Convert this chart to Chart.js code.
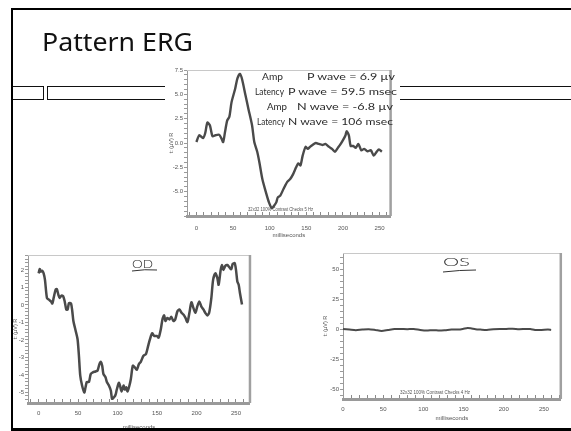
<!DOCTYPE html>
<html>
<head>
<meta charset="utf-8">
<script src="https://cdn.jsdelivr.net/npm/chart.js@4.4.0/dist/chart.umd.min.js"></script>
<style>
html, body { margin: 0; padding: 0; background: #fff; }
body { width: 571px; height: 431px; position: relative; overflow: hidden; }
.abs { position: absolute; }
.frame { left: 11px; top: 8px; width: 570px; height: 418px; border-left: 2px solid #000; border-top: 2px solid #000; border-bottom: 3px solid #000; z-index: 5; }
.cell { border: 1.5px solid #111; height: 12px; top: 86px; }
.img { background: #fff; z-index: 2; }
svg { left: 0; top: 0; z-index: 6; }
</style>
</head>
<body>
<div class="abs frame"></div>
<div class="abs cell" style="left:12px;width:30px"></div>
<div class="abs cell" style="left:47px;width:540px"></div>

<div class="abs img" style="left:165px;top:62px"><canvas id="topChart" width="235" height="178"></canvas></div>
<div class="abs img" style="left:13px;top:245px"><canvas id="odChart" width="242" height="186"></canvas></div>
<div class="abs img" style="left:318px;top:245px"><canvas id="osChart" width="253" height="186"></canvas></div>

<svg class="abs" width="571" height="431">
  <text x="42" y="51" font-family="Noto Sans" font-size="25" fill="#111" textLength="151" lengthAdjust="spacingAndGlyphs">Pattern ERG</text>
  <g font-family="Lato, DejaVu Sans" font-weight="400" font-size="10" fill="#2a2a2a">
    <text x="262" y="80" textLength="21" lengthAdjust="spacingAndGlyphs">Amp</text>
    <text x="307" y="80" textLength="88" lengthAdjust="spacingAndGlyphs">P wave = 6.9 µv</text>
    <text x="255" y="95" textLength="29" lengthAdjust="spacingAndGlyphs">Latency</text>
    <text x="288" y="95" textLength="109" lengthAdjust="spacingAndGlyphs">P wave = 59.5 msec</text>
    <text x="267" y="110" textLength="20" lengthAdjust="spacingAndGlyphs">Amp</text>
    <text x="297" y="110" textLength="96" lengthAdjust="spacingAndGlyphs">N wave = -6.8 µv</text>
    <text x="257" y="125" textLength="28" lengthAdjust="spacingAndGlyphs">Latency</text>
    <text x="288" y="125" textLength="105" lengthAdjust="spacingAndGlyphs">N wave = 106 msec</text>
    <text x="132" y="268" font-size="11" font-weight="300" textLength="21" lengthAdjust="spacingAndGlyphs">OD</text>
    <text x="443" y="266" font-size="11" font-weight="300" textLength="27" lengthAdjust="spacingAndGlyphs">OS</text>
  </g>
  <path d="M132 271 Q145 269 157 270" stroke="#333" stroke-width="1" fill="none"/>
  <path d="M443 272 Q460 270 476 270" stroke="#333" stroke-width="1" fill="none"/>
  <g font-family="Liberation Sans Narrow, Arial Narrow, sans-serif" font-size="5.5" fill="#555">
    <text x="248" y="211" textLength="65" lengthAdjust="spacingAndGlyphs">32x32 100% Contrast Checks 5 Hz</text>
    <text x="400" y="394" textLength="70" lengthAdjust="spacingAndGlyphs">32x32 100% Contrast Checks 4 Hz</text>
  </g>
</svg>

<script>
// top trace (Pattern ERG, 5 Hz)
const topMs = [0,4,9,12,15,18.5,22,26,31,34,36.5,39,42,45,48,53,56,59.5,62.5,67,71,76,79,83,86,90,95,99,103,106,109,111,114.5,119,124,128,132,136,139,142,145,149,152,155,158.5,163,167,172,176,181,185,189,193,196,200,203.5,205,208,210.5,214,217.5,221,225,229,233.5,238,242,246,249,253];
const topUv = [0.1,0.8,0.5,1.0,2.1,1.8,0.7,0.8,0.85,0.5,0.1,1.1,2.3,2.7,4.2,5.6,6.65,7.1,6.5,4.9,3.5,1.8,0.1,-0.9,-2.0,-3.7,-5.1,-6.1,-6.7,-6.45,-6.1,-5.6,-5.4,-4.7,-4.0,-3.7,-3.2,-2.5,-2.1,-2.3,-1.3,-0.4,-0.6,-0.4,-0.2,0.0,-0.1,-0.2,-0.1,-0.4,-0.6,-0.9,-0.5,-0.2,0.3,0.8,1.2,0.8,-0.3,-0.3,-0.5,-0.1,-0.75,-0.6,-0.85,-0.75,-1.3,-0.9,-0.65,-0.9];

// OD trace
const odMs = [0,1.3,3,4.6,6.3,8,10.5,13,15.6,17.3,19,21.5,23,25,26.5,29,31,33,35,36.7,38.4,41,42.6,44,47,49.3,51,52.7,55,57.8,59.4,61,63.7,66,68.7,72,74.6,77,78.8,80.5,82,84.7,86.4,89,91.5,93,95.7,97.4,99,101.6,103,105,107.5,109,111,112.6,115,116.8,119.3,121.8,124.4,127,129.4,132.8,136,138.7,141,143.8,146.3,149.7,152,154.7,157,159,160.6,163,165.7,168,170.7,173,175.8,178.3,181,183.4,186,188.5,191,193.5,196,198.6,201,203.6,206,208.7,211,213.7,216,218.8,221,223.9,226.4,228,230.6,232.3,234,236.5,239,241.6,244,245.8,248.3,250,251.7,253.4,255,257.6];
const odUv = [1.8,2.05,1.9,1.95,1.8,1.43,0.4,0.3,0.2,0.08,0.4,0.87,0.9,0.58,0.4,0.53,0.5,0.2,-0.26,-0.26,0.1,0.08,-0.36,-0.92,-1.5,-1.96,-2.9,-4.04,-4.6,-5.0,-4.7,-4.4,-4.4,-3.94,-3.85,-3.8,-3.75,-3.38,-3.25,-3.47,-3.94,-4.13,-4.4,-4.6,-4.9,-5.36,-5.26,-5.13,-4.83,-4.45,-4.6,-4.94,-4.6,-4.83,-4.7,-4.94,-4.6,-4.23,-3.47,-3.57,-3.7,-3.38,-3.25,-2.9,-2.8,-2.34,-1.96,-1.62,-1.77,-1.77,-1.87,-1.4,-0.79,-0.6,-0.92,-0.74,-0.83,-0.68,-0.92,-0.83,-0.36,-0.26,-0.45,-0.55,-0.74,-0.98,-0.45,0.15,-0.17,-0.45,-0.08,0.2,-0.08,-0.26,-0.45,-0.6,-0.45,0.4,1.43,1.8,1.53,1.15,2.0,2.28,2.0,2.23,2.28,2.15,2.04,2.34,2.38,2.0,1.34,1.15,0.68,0.02];

// OS trace (flat)
const osMs = [0,8,16,24,32,40,48,56,64,72,80,88,96,104,112,120,127,135,143,149,155,159,165,171,179,187,195,203,211,219,227,233,239,247,255,259];
const osUv = [0.5,0,-0.5,0,0.3,-0.3,-1.1,-0.3,0.5,0.5,0.3,0.5,-0.3,-0.8,-0.5,-0.8,-0.5,0,0,0.5,1.4,1.1,0.3,0,-0.3,0.3,0.5,0.5,0.8,0.3,0.5,0.5,-0.3,-0.3,0,-0.3];

const xLabel = 'milliseconds';
const yLabel = 't: (µV) R';

const tickFont = { family: 'Liberation Sans Narrow, Arial Narrow, sans-serif', size: 6 };

// light top edge + heavier right edge of the scanned plot box
const plotFrame = {
  id: 'plotFrame',
  beforeDatasetsDraw(chart) {
    const { ctx, chartArea: a } = chart;
    ctx.save();
    ctx.strokeStyle = '#c8c8c8';
    ctx.lineWidth = 1;
    ctx.beginPath(); ctx.moveTo(a.left, a.top + 0.5); ctx.lineTo(a.right, a.top + 0.5); ctx.stroke();
    ctx.strokeStyle = '#a0a0a0';
    ctx.lineWidth = 2.5;
    ctx.beginPath(); ctx.moveTo(a.right, a.top); ctx.lineTo(a.right, a.bottom); ctx.stroke();
    ctx.restore();
  }
};

function pts(xs, ys) {
  return xs.map((x, i) => ({ x: x, y: ys[i] }));
}

function makeChart(id, o) {
  return new Chart(document.getElementById(id), {
    type: 'line',
    data: {
      datasets: [{
        data: pts(o.xs, o.ys),
        borderColor: '#4a4a4a',
        borderWidth: o.lineWidth,
        pointRadius: 0,
        tension: 0.25,
        fill: false
      }]
    },
    options: {
      responsive: false,
      animation: false,
      devicePixelRatio: 1,
      layout: { padding: { top: o.padTop, right: o.padRight, left: 0, bottom: 0 } },
      plugins: { legend: { display: false }, tooltip: { enabled: false } },
      scales: {
        x: {
          type: 'linear',
          min: o.xMin, max: o.xMax,
          grid: { drawOnChartArea: false, tickLength: -4, color: '#8a8a8a', lineWidth: 1 },
          border: { color: '#9a9a9a', width: 3 },
          ticks: {
            stepSize: 10, includeBounds: false, autoSkip: false, maxRotation: 0,
            padding: o.xLabelPad, font: tickFont, color: '#555',
            callback: v => (v % 50 === 0 ? v : '')
          },
          title: { display: true, text: xLabel, font: tickFont, color: '#555', padding: { top: 0, bottom: o.xTitlePad } },
          afterFit: s => { s.height = o.xHeight; }
        },
        y: {
          min: o.yMin, max: o.yMax,
          grid: { drawOnChartArea: false, tickLength: 3, color: '#9a9a9a', lineWidth: 1 },
          border: { color: '#9a9a9a', width: 1 },
          ticks: {
            stepSize: o.yStep, includeBounds: false, autoSkip: false,
            padding: 1, font: tickFont, color: '#555',
            callback: o.yFmt
          },
          title: { display: true, text: yLabel, font: { family: tickFont.family, size: 5.5, lineHeight: 1 }, color: '#555', padding: { top: o.yTitlePad, bottom: 0 } },
          afterFit: s => { s.width = o.yWidth; }
        }
      }
    },
    plugins: [plotFrame]
  });
}

makeChart('topChart', {
  xs: topMs, ys: topUv, lineWidth: 2.4,
  xMin: -12.8, xMax: 265, yMin: -7.5, yMax: 7.5, yStep: 0.5,
  yFmt: v => (Math.abs(v % 2.5) < 1e-6 && v > -7.4 ? v.toFixed(1) : ''),
  padTop: 8, padRight: 3, yWidth: 22, xHeight: 24,
  xLabelPad: 13, xTitlePad: 1.5, yTitlePad: 4
});

makeChart('odChart', {
  xs: odMs, ys: odUv, lineWidth: 2.5,
  xMin: -13.5, xMax: 267.7, yMin: -5.6, yMax: 2.85, yStep: 0.2,
  yFmt: v => (Math.abs(v - Math.round(v)) < 1e-6 ? Math.round(v) : ''),
  padTop: 10, padRight: 4, yWidth: 15, xHeight: 28,
  xLabelPad: 11, xTitlePad: 0.5, yTitlePad: 0
});

makeChart('osChart', {
  xs: osMs, ys: osUv, lineWidth: 2,
  xMin: 0, xMax: 271, yMin: -58, yMax: 64, yStep: 5,
  yFmt: v => (v % 25 === 0 ? v : ''),
  padTop: 8, padRight: 1, yWidth: 25, xHeight: 32,
  xLabelPad: 11, xTitlePad: 9.4, yTitlePad: 4.4
});
</script>
</body>
</html>
